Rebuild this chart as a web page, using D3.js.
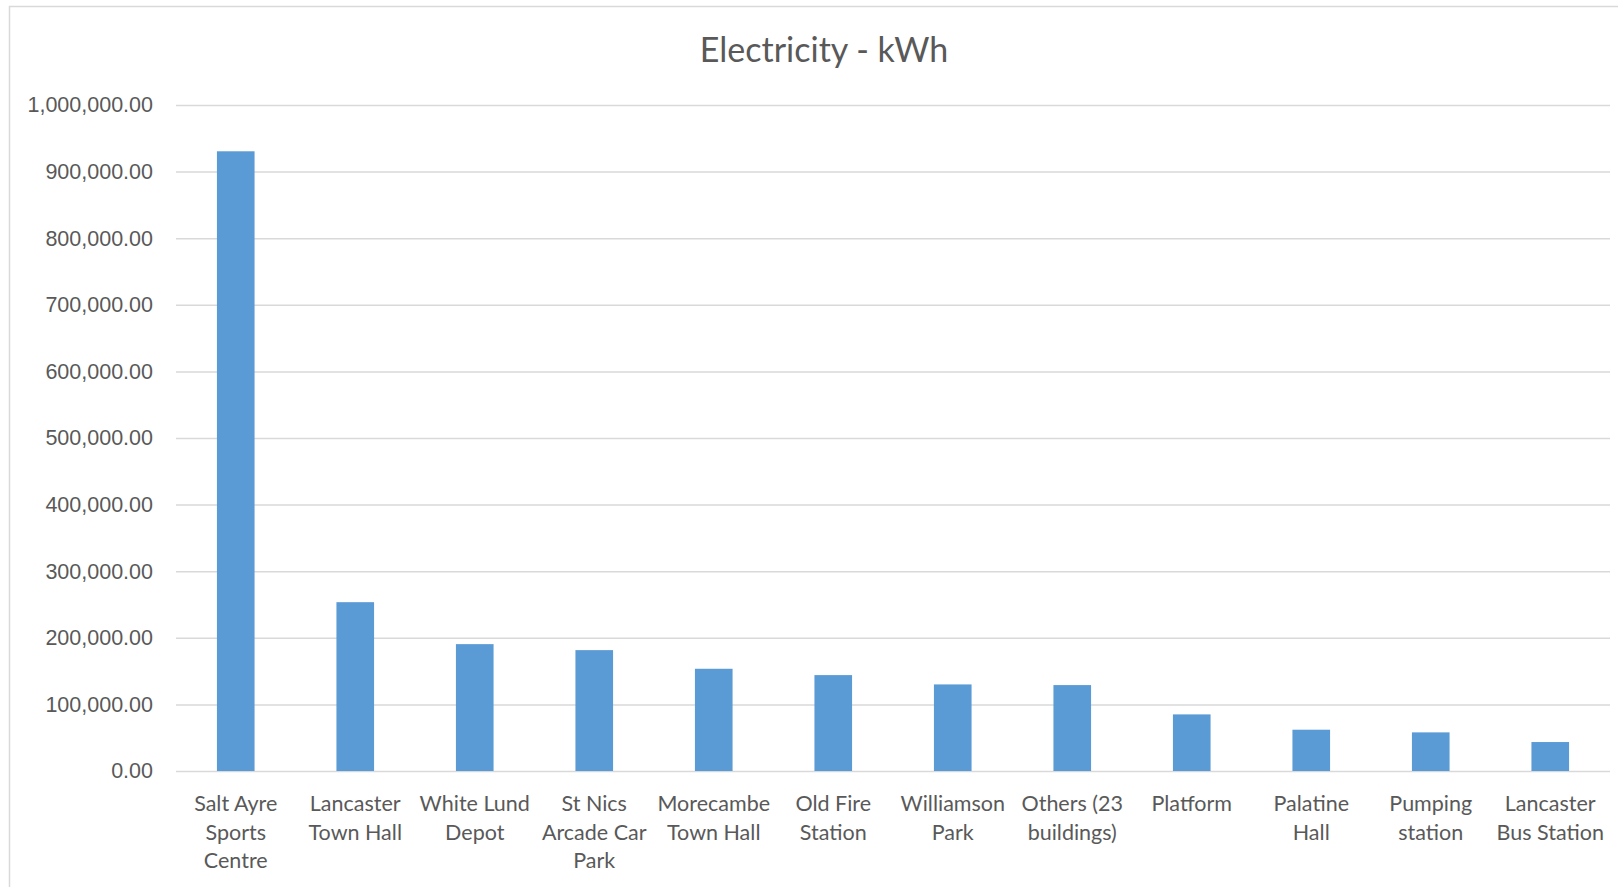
<!DOCTYPE html>
<html>
<head>
<meta charset="utf-8">
<script src="https://cdn.jsdelivr.net/npm/d3@7"></script>
<style>
  body { margin: 0; background: #fff; }
  svg { display: block; font-family: Lato, "Open Sans", sans-serif; }
</style>
</head>
<body>
<div id="chart"></div>
<script>
// data (line breaks as the labels wrap there)
var categories = ["Salt Ayre\nSports\nCentre", "Lancaster\nTown Hall", "White Lund\nDepot",
  "St Nics\nArcade Car\nPark", "Morecambe\nTown Hall", "Old Fire\nStation", "Williamson\nPark",
  "Others (23\nbuildings)", "Platform", "Palatine\nHall", "Pumping\nstation", "Lancaster\nBus Station"];
var kwh = [930500, 253500, 190500, 181500, 153500, 144000, 130000, 129000, 85000, 62000, 58000, 43500];
var yTicks = [0, 100000, 200000, 300000, 400000, 500000, 600000, 700000, 800000, 900000, 1000000];
var title = "Electricity - kWh";

var W = 1618, H = 887;
var margin = { left: 176, right: 8, top: 105, bottom: 116 };
var textColor = "#595959", gridColor = "#d9d9d9", barColor = "#5b9bd5";

var svg = d3.select("#chart").append("svg").attr("width", W).attr("height", H);

// chart frame (runs off the right and bottom edges)
svg.append("rect").attr("x", 9.5).attr("y", 6.5).attr("width", W + 10).attr("height", H + 10)
  .attr("fill", "none").attr("stroke", gridColor).attr("stroke-width", 1.5);

svg.append("text").attr("x", 824).attr("y", 62).attr("text-anchor", "middle")
  .style("font-size", "34px").attr("fill", textColor).text(title);

var x = d3.scaleBand().domain(categories).range([margin.left, W - margin.right])
  .paddingInner(0.685).paddingOuter(0.3425);
var y = d3.scaleLinear().domain([0, 1000000]).range([H - margin.bottom, margin.top]);

// gridlines + y labels
var yAxisG = svg.append("g").attr("transform", "translate(" + margin.left + ",0)")
  .call(d3.axisLeft(y).tickValues(yTicks).tickFormat(d3.format(",.2f"))
    .tickSize(-(W - margin.right - margin.left)).tickPadding(23));
yAxisG.select(".domain").remove();
yAxisG.selectAll(".tick line").attr("stroke", gridColor).attr("stroke-width", 1.5);
yAxisG.selectAll(".tick text").attr("fill", textColor).style("font-size", "21.5px")
  .style("font-family", null);

// bars
svg.append("g").selectAll("rect").data(kwh).enter().append("rect")
  .attr("x", function (d, i) { return x(categories[i]); })
  .attr("y", function (d) { return y(d); })
  .attr("width", x.bandwidth())
  .attr("height", function (d) { return y(0) - y(d); })
  .attr("fill", barColor);

// category labels
var labels = svg.append("g").selectAll("text").data(categories).enter().append("text")
  .attr("text-anchor", "middle").attr("fill", textColor).style("font-size", "21.5px")
  .attr("x", function (d) { return x(d) + x.bandwidth() / 2; });

labels.each(function (d) {
  var t = d3.select(this);
  d.split("\n").forEach(function (ln, k) {
    t.append("tspan").attr("x", t.attr("x")).attr("y", 811 + k * 28.7).text(ln);
  });
});
</script>
</body>
</html>
